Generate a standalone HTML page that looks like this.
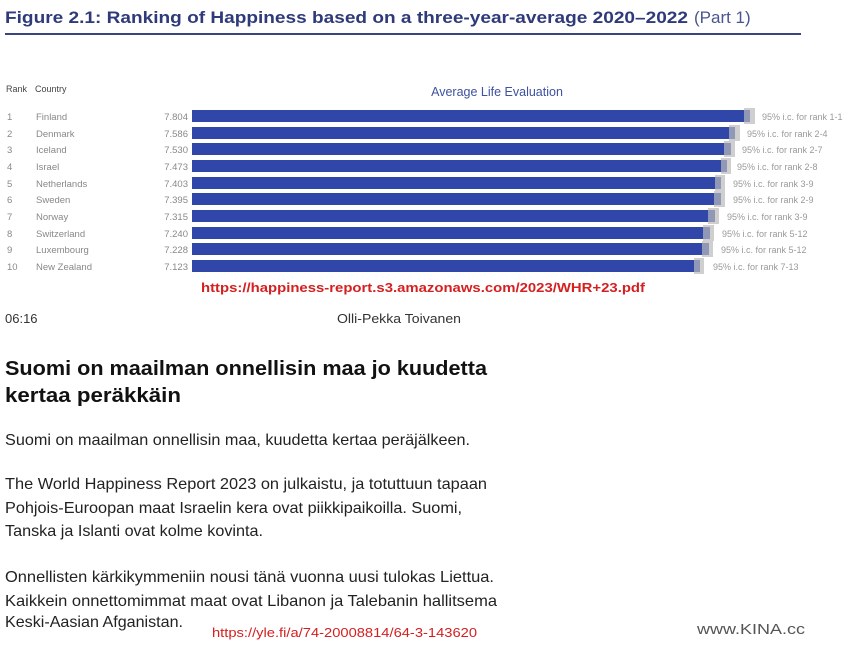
<!DOCTYPE html>
<html><head><meta charset="utf-8"><style>
body{margin:0;background:#fff;width:864px;height:649px;overflow:hidden}
svg{display:block}
</style></head><body>
<svg width="864" height="649" xmlns="http://www.w3.org/2000/svg" font-family="Liberation Sans, sans-serif">
<text x="5" y="23" font-size="17" font-weight="bold" fill="#2e3a7a" textLength="683" lengthAdjust="spacingAndGlyphs">Figure 2.1: Ranking of Happiness based on a three-year-average 2020–2022</text>
<text x="694" y="23" font-size="17" fill="#4a5590">(Part 1)</text>
<rect x="5" y="33" width="796" height="2" fill="#3b4680"/>
<text x="6" y="92" font-size="9" fill="#444">Rank</text>
<text x="35" y="92" font-size="9" fill="#444">Country</text>
<text x="497" y="96" font-size="12.5" fill="#3d52a0" text-anchor="middle">Average Life Evaluation</text>
<g font-size="9.5" fill="#888">
<text x="7" y="120">1</text><text x="36" y="120">Finland</text><text x="188" y="120" text-anchor="end">7.804</text>
<text x="7" y="137">2</text><text x="36" y="137">Denmark</text><text x="188" y="137" text-anchor="end">7.586</text>
<text x="7" y="153">3</text><text x="36" y="153">Iceland</text><text x="188" y="153" text-anchor="end">7.530</text>
<text x="7" y="170">4</text><text x="36" y="170">Israel</text><text x="188" y="170" text-anchor="end">7.473</text>
<text x="7" y="187">5</text><text x="36" y="187">Netherlands</text><text x="188" y="187" text-anchor="end">7.403</text>
<text x="7" y="203">6</text><text x="36" y="203">Sweden</text><text x="188" y="203" text-anchor="end">7.395</text>
<text x="7" y="220">7</text><text x="36" y="220">Norway</text><text x="188" y="220" text-anchor="end">7.315</text>
<text x="7" y="237">8</text><text x="36" y="237">Switzerland</text><text x="188" y="237" text-anchor="end">7.240</text>
<text x="7" y="253">9</text><text x="36" y="253">Luxembourg</text><text x="188" y="253" text-anchor="end">7.228</text>
<text x="7" y="270">10</text><text x="36" y="270">New Zealand</text><text x="188" y="270" text-anchor="end">7.123</text>
</g>
<g fill="#3046a8">
<rect x="192" y="110" width="558" height="12"/>
<rect x="192" y="127" width="543" height="12"/>
<rect x="192" y="143" width="539" height="12"/>
<rect x="192" y="160" width="535" height="12"/>
<rect x="192" y="177" width="529" height="12"/>
<rect x="192" y="193" width="529" height="12"/>
<rect x="192" y="210" width="523" height="12"/>
<rect x="192" y="227" width="518" height="12"/>
<rect x="192" y="243" width="517" height="12"/>
<rect x="192" y="260" width="508" height="12"/>
</g>
<g fill="#bbb">
<rect x="744" y="108" width="11" height="16" opacity=".7"/>
<rect x="729" y="125" width="11" height="16" opacity=".7"/>
<rect x="724" y="141" width="11" height="16" opacity=".7"/>
<rect x="721" y="158" width="10" height="16" opacity=".7"/>
<rect x="715" y="175" width="10" height="16" opacity=".7"/>
<rect x="714" y="191" width="11" height="16" opacity=".7"/>
<rect x="708" y="208" width="11" height="16" opacity=".7"/>
<rect x="703" y="225" width="11" height="16" opacity=".7"/>
<rect x="702" y="241" width="11" height="16" opacity=".7"/>
<rect x="694" y="258" width="10" height="16" opacity=".7"/>
</g>
<g font-size="9" fill="#999">
<text x="762" y="120">95% i.c. for rank 1-1</text>
<text x="747" y="137">95% i.c. for rank 2-4</text>
<text x="742" y="153">95% i.c. for rank 2-7</text>
<text x="737" y="170">95% i.c. for rank 2-8</text>
<text x="733" y="187">95% i.c. for rank 3-9</text>
<text x="733" y="203">95% i.c. for rank 2-9</text>
<text x="727" y="220">95% i.c. for rank 3-9</text>
<text x="722" y="237">95% i.c. for rank 5-12</text>
<text x="721" y="253">95% i.c. for rank 5-12</text>
<text x="713" y="270">95% i.c. for rank 7-13</text>
</g>
<text x="201" y="292" font-size="13" font-weight="bold" fill="#d42020" textLength="444" lengthAdjust="spacingAndGlyphs">https://happiness-report.s3.amazonaws.com/2023/WHR+23.pdf</text>
<text x="5" y="323" font-size="13" fill="#333">06:16</text>
<text x="337" y="323" font-size="13" fill="#333" textLength="124" lengthAdjust="spacingAndGlyphs">Olli-Pekka Toivanen</text>
<g font-size="20" font-weight="bold" fill="#111">
<text x="5" y="375" textLength="482" lengthAdjust="spacingAndGlyphs">Suomi on maailman onnellisin maa jo kuudetta</text>
<text x="5" y="402" textLength="176" lengthAdjust="spacingAndGlyphs">kertaa peräkkäin</text>
</g>
<g font-size="16" fill="#222">
<text x="5" y="445" textLength="465" lengthAdjust="spacingAndGlyphs">Suomi on maailman onnellisin maa, kuudetta kertaa peräjälkeen.</text>
<text x="5" y="489" textLength="482" lengthAdjust="spacingAndGlyphs">The World Happiness Report 2023 on julkaistu, ja totuttuun tapaan</text>
<text x="5" y="513" textLength="457" lengthAdjust="spacingAndGlyphs">Pohjois-Euroopan maat Israelin kera ovat piikkipaikoilla. Suomi,</text>
<text x="5" y="536" textLength="258" lengthAdjust="spacingAndGlyphs">Tanska ja Islanti ovat kolme kovinta.</text>
<text x="5" y="582" textLength="489" lengthAdjust="spacingAndGlyphs">Onnellisten kärkikymmeniin nousi tänä vuonna uusi tulokas Liettua.</text>
<text x="5" y="606" textLength="492" lengthAdjust="spacingAndGlyphs">Kaikkein onnettomimmat maat ovat Libanon ja Talebanin hallitsema</text>
<text x="5" y="627" textLength="178" lengthAdjust="spacingAndGlyphs">Keski-Aasian Afganistan.</text>
</g>
<text x="212" y="637" font-size="13" fill="#d42020" textLength="265" lengthAdjust="spacingAndGlyphs">https://yle.fi/a/74-20008814/64-3-143620</text>
<text x="697" y="634" font-size="15" fill="#555" textLength="108" lengthAdjust="spacingAndGlyphs">www.KINA.cc</text>
</svg>
</body></html>
